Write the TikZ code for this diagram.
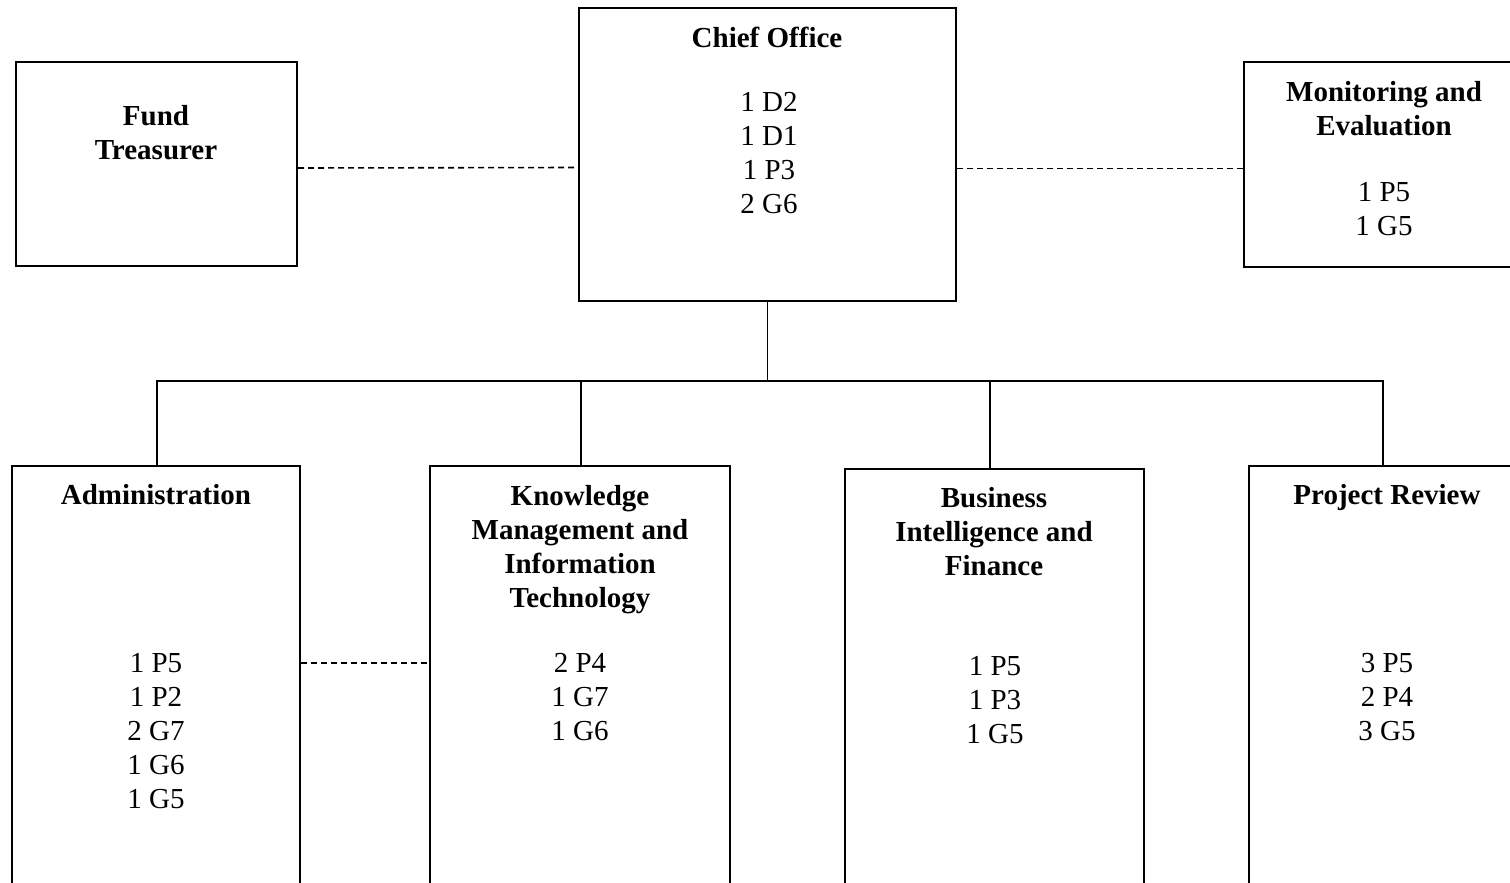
\documentclass[tikz,border=0pt]{standalone}
\usepackage{fontspec}
\setmainfont{Liberation Serif}
\usepackage{tikz}
\usetikzlibrary{positioning,calc}

\begin{document}
\begin{tikzpicture}[x=1pt,y=-1pt,
 box/.style={draw=black,line width=2pt,minimum width=#1,inner sep=0pt},
 ttl/.style={font=\fontsize{29}{34}\selectfont\bfseries,align=center,anchor=north,inner sep=0pt},
 staff/.style={font=\fontsize{29}{34}\selectfont,align=center,anchor=north,inner sep=0pt},
 link/.style={draw=black,line width=1.9pt},
 dashlink/.style={draw=black,line width=1.6pt,dash pattern=on 6pt off 4pt}]
 \useasboundingbox (0,0) rectangle (1510,883);
 \clip (0,0) rectangle (1510,883);
 % upper row
 \node[box=281pt,minimum height=204pt] (treas) at (156.5,164) {};
 \node[box=377pt,minimum height=293pt] (chief) at (767.5,154.5) {};
 \node[box=280pt,minimum height=205pt] (monit) at (1384,164.5) {};
 % lower row
 \node[box=288pt,minimum height=454pt] (admin) at (156,693) {};
 \node[box=300pt,minimum height=454pt] (know) at (580,693) {};
 \node[box=299pt,minimum height=451pt] (busi) at (994.5,694.5) {};
 \node[box=276pt,minimum height=454pt] (proj) at (1387,693) {};
 % texts
 \node[ttl] (treasT) at (156,105) {Fund\\Treasurer};
 \node[ttl] (chiefT) at (767,27) {Chief Office};
 \node[staff] (chiefS) at (769,92) {1 D2\\1 D1\\1 P3\\2 G6};
 \node[ttl] (monitT) at (1384,81) {Monitoring and\\Evaluation};
 \node[staff] (monitS) at (1384,182) {1 P5\\1 G5};
 \node[ttl] (adminT) at (156,484) {Administration};
 \node[staff] (adminS) at (156,653) {1 P5\\1 P2\\2 G7\\1 G6\\1 G5};
 \node[ttl] (knowT) at (580,485) {Knowledge\\Management and\\Information\\Technology};
 \node[staff] (knowS) at (580,653) {2 P4\\1 G7\\1 G6};
 \node[ttl] (busiT) at (994,487) {Business\\Intelligence and\\Finance};
 \node[staff] (busiS) at (995,656) {1 P5\\1 P3\\1 G5};
 \node[ttl] (projT) at (1387,484) {Project Review};
 \node[staff] (projS) at (1387,653) {3 P5\\2 P4\\3 G5};
 % connectors
 \coordinate (bus) at (767.5,381);
 \draw[link] (chief.south) -- (bus);
 \draw[link] ([xshift=1pt]admin.north) |- ([xshift=-4pt]proj.north |- bus) -- ([xshift=-4pt]proj.north);
 \draw[link] ([xshift=1pt]know.north) -- ([xshift=1pt]know.north |- bus);
 \draw[link] ([xshift=-4.5pt]busi.north) -- ([xshift=-4.5pt]busi.north |- bus);
 \draw[dashlink] ([yshift=-4pt]treas.east) -- ([yshift=-13pt]chief.west);
 \draw[dashlink] ([yshift=-14pt]chief.east) -- ([yshift=-4pt]monit.west);
 \draw[dashlink] ([yshift=30pt]admin.east) -- ([yshift=30pt]know.west);
\end{tikzpicture}
\end{document}
